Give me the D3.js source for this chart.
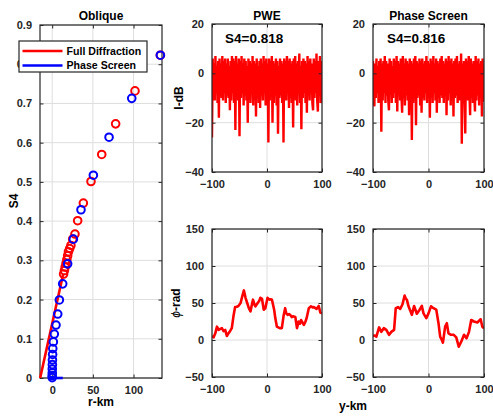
<!DOCTYPE html>
<html>
<head>
<meta charset="utf-8">
<script src="https://cdn.jsdelivr.net/npm/d3@7"></script>
<style>
  html, body { margin: 0; padding: 0; background: #fff; }
  svg { display: block; font-family: "Liberation Sans", Arial, sans-serif; font-weight: bold; }
</style>
</head>
<body>
<svg id="fig" width="493" height="416"></svg>
<script>
// ---- Oblique panel: S4 against r (km) ----
const fdR   = [133, 101.8, 78, 60.9, 47.7, 38.3, 31.3, 28, 25.2, 23, 21.5, 20, 19, 18, 17, 16, 15, 14];
const fdS4  = [0.823, 0.732, 0.648, 0.57, 0.501, 0.446, 0.401, 0.367, 0.354, 0.338, 0.33, 0.322, 0.312, 0.302, 0.292, 0.283, 0.274, 0.265];
const fdLineR  = [-14.8, 13.5];
const fdLineS4 = [0, 0.265];

const psR   = [133, 97.8, 69.9, 50.6, 35.4, 26, 19, 12.9, 8.8, 6.8, 4.7, 2.6, 1.4, 0.7, 0.5, 0.3, 0.2, 0.1, 0.1, 0, 0];
const psS4  = [0.823, 0.713, 0.614, 0.517, 0.429, 0.354, 0.291, 0.24, 0.199, 0.163, 0.135, 0.112, 0.092, 0.075, 0.06, 0.046, 0.034, 0.023, 0.013, 0.006, 0.001];
const psLineR  = [-5, 13];
const psLineS4 = [0, 0];

const rTicks  = [0, 50, 100];
const s4Ticks = [0, 0.1, 0.2, 0.3, 0.4, 0.5, 0.6, 0.7, 0.8, 0.9];

// ---- Intensity (dB) across y (km), sampled every 1.25 km from -100 to 100 ----
const pweIdB = [
  -26, 6, -9, 4, -11, 7, -8, 3, -12, 5,
  -18, 6, -9, 4, -10, 7, -11, 5, -8, 6,
  -12, 4, -9, 6, -10, 3, -15, 5, -11, 7,
  -8, 6, -12, 5, -23, 7, -9, 4, -11, 6,
  -25.5, 5, -10, 7, -8, 4, -13, 6, -9, 5,
  -11, 3, -20, 6, -9, 5, -12, 4, -8, 7,
  -13, 5, -10, 4, -17.5, 6, -9, 3, -12, 5,
  -14, 6, -9, 4, -11, 7, -8, 5, -13, 6,
  -9, 4, -28, 6, -11, 5, -8, 7, -20, 5,
  -12, 4, -9, 6, -13, 5, -24.5, 3, -10, 6,
  -9, 5, -12, 4, -28, 6, -9, 5, -11, 7,
  -8, 5, -14, 6, -10, 4, -12, 5, -22, 6,
  -9, 7, -11, 4, -13, 5, -8, 8, -12, 3,
  -22.7, 5, -10, 6, -8, 5, -12, 4, -16, 7,
  -9, 5, -11, 6, -8, 4, -12, -15, 6, -10,
  5, -8, 8, -11, -15.5, 5, -9, 7, -12, -11,
  5
];
const psIdB = [
  5, -9, -13.4, 4, -10, 6, -8, 3, -12, 5,
  -10, 6, -23.7, 4, -11, 5, -8, 7, -12, 5,
  -9, 4, -11, -15, 6, -8, 5, -12, 3, -10,
  6, -8, 5, -12, 7, -15.5, 5, -9, 4, -11,
  6, -9, -16, 7, -10, 4, -13, 6, -9, 5,
  -11, 4, -17, 6, -10, 5, -27, 4, -12, 6,
  -9, 7, -21, 5, -10, 4, -9, 6, -13, 5,
  -16, 6, -10, 4, -11, 5, -8, 7, -12, 5,
  -9, 4, -18, 6, -10, 5, -12, 7, -8, 4,
  -11, 6, -16, 5, -10, 4, -12, 6, -9, 7,
  -10, 5, -12, 4, -9, 6, -17, 5, -11, 7,
  -8, 5, -13, 6, -10, 4, -17.5, 5, -10, 6,
  -9, 7, -12, 4, -11, 5, -9, 8, -28.5, 4,
  -10, 5, -12, -24.4, 6, -9, 5, -11, 7, -8,
  -17, 6, -10, 4, -12, 5, -9, -15.5, 7, -11,
  5, -9, 6, -13, 4, -10, 5, -17.5, 6, -11,
  -10.7
];
const intensityY = d3.range(pweIdB.length).map(i => -100 + i * 1.25);

// ---- Phase (rad) across y (km) ----
const pwePhY = [-100, -97, -94, -91, -88, -85, -82, -79, -76, -73, -70, -68, -64, -61, -58, -55, -52, -48, -45, -42, -39, -36, -33, -30, -28, -25.5, -23, -21, -17, -14, -12, -9, -6, -3, 1, 4.5, 7, 9, 13, 15, 18, 23, 27, 30, 33, 35, 37.5, 40, 42, 45, 47, 51.5, 54.5, 57.5, 60, 62, 65, 67, 70, 72, 76, 80, 83, 85, 88, 90, 92, 94, 97, 100];
const pwePh  = [5.5, 3.6, 9, 18, 13.6, 15, 16, 12, 13.6, 5.5, 9, 11, 16, 32, 44.5, 45, 46, 50, 59, 67, 57, 50, 43, 38.6, 46, 54.5, 48, 45.5, 50, 53, 57, 55.5, 41, 43, 57, 54.5, 55, 54.5, 41, 30, 18, 16, 16, 32, 43, 36, 34, 35, 34, 31, 32, 31, 16, 25, 22, 27, 23, 20.5, 25, 29.5, 43, 45.5, 44, 44.5, 43, 42, 44, 46, 37, 36];
const psPhY  = [-100, -97, -94, -89, -85, -80.6, -76, -71, -67, -62, -59, -55, -51, -47, -43, -41, -39, -36, -33, -30, -26, -21, -16, -12, -9, -4, 0, 4.5, 9, 14, 18, 21, 24, 26, 30, 33, 36, 40.6, 45.5, 50, 54.5, 59, 64, 68.5, 73, 77, 82, 88, 94, 97, 100];
const psPh   = [5.5, 6, 4.5, 17, 11, 16, 13.6, 7, 11, 13.6, 43, 44.5, 42, 48, 60, 56, 54.5, 45.5, 40, 34, 46, 35.5, 41, 46, 36, 29.5, 36, 45.5, 43, 41, 22.7, 4.5, 0, -3.6, 18, 22.7, 9, 7, 7, 3.6, -9, -2.3, 7, 2.3, 11, 27, 25, 23.6, 28, 18, 16];

const yTicks   = [-100, 0, 100];
const idbTicks = [-40, -20, 0, 20];
const phTicks  = [-50, 0, 50, 100, 150];

const RED = "#ff0000", BLUE = "#0000ff";
const AXIS = "#262626", GRID = "#dedede";

const svg = d3.select("#fig");

// Draws a MATLAB-style boxed axes with inward ticks on all sides and a grid.
function axesBox(box, xDomain, yDomain, xt, yt, yFmt) {
  const x = d3.scaleLinear().domain(xDomain).range([box.x0, box.x1]);
  const y = d3.scaleLinear().domain(yDomain).range([box.y1, box.y0]);
  const g = svg.append("g");
  g.append("rect").attr("x", box.x0).attr("y", box.y0)
    .attr("width", box.x1 - box.x0).attr("height", box.y1 - box.y0).attr("fill", "#fff");
  const grid = g.append("g").attr("stroke", GRID).attr("stroke-width", 1);
  xt.forEach(v => grid.append("line").attr("x1", x(v)).attr("x2", x(v)).attr("y1", box.y0).attr("y2", box.y1));
  yt.forEach(v => grid.append("line").attr("y1", y(v)).attr("y2", y(v)).attr("x1", box.x0).attr("x2", box.x1));
  const clipId = "c" + Math.round(box.x0) + "_" + Math.round(box.y0);
  svg.append("clipPath").attr("id", clipId).append("rect")
    .attr("x", box.x0).attr("y", box.y0).attr("width", box.x1 - box.x0).attr("height", box.y1 - box.y0);
  const plot = svg.append("g").attr("clip-path", `url(#${clipId})`);
  const frame = svg.append("g");
  // bottom & left axes via d3 axis generators, ticks pointing inward
  frame.append("g").attr("transform", `translate(0,${box.y1})`)
    .call(d3.axisBottom(x).tickValues(xt).tickSizeInner(-3.5).tickSizeOuter(0).tickPadding(8).tickFormat(d3.format("d")));
  frame.append("g").attr("transform", `translate(${box.x0},0)`)
    .call(d3.axisLeft(y).tickValues(yt).tickSizeInner(-3.5).tickSizeOuter(0).tickPadding(8).tickFormat(yFmt));
  frame.append("g").attr("transform", `translate(0,${box.y0})`)
    .call(d3.axisTop(x).tickValues(xt).tickSizeInner(-3.5).tickSizeOuter(0).tickFormat(""));
  frame.append("g").attr("transform", `translate(${box.x1},0)`)
    .call(d3.axisRight(y).tickValues(yt).tickSizeInner(-3.5).tickSizeOuter(0).tickFormat(""));
  frame.selectAll(".domain").remove();
  frame.selectAll(".tick line").attr("stroke", AXIS);
  frame.selectAll(".tick text").attr("fill", AXIS).attr("font-size", 11)
    .attr("font-family", "Liberation Sans, Arial, sans-serif").attr("font-weight", "bold");
  frame.append("rect").attr("x", box.x0).attr("y", box.y0)
    .attr("width", box.x1 - box.x0).attr("height", box.y1 - box.y0)
    .attr("fill", "none").attr("stroke", AXIS).attr("stroke-width", 1.2);
  const top = svg.append("g"); // unclipped layer above the frame
  return { x, y, plot, frame, top };
}

function label(txt, x, y, size, rotate) {
  const t = svg.append("text").attr("x", x).attr("y", y).attr("text-anchor", "middle")
    .attr("font-size", size).attr("fill", "#000").text(txt);
  if (rotate) t.attr("transform", `rotate(-90,${x},${y})`);
  return t;
}

// ---- Oblique ----
const ob = axesBox({ x0: 40, x1: 162, y0: 25, y1: 378 }, [-15, 135], [0, 0.9], rTicks, s4Ticks,
  d => d === 0 ? "0" : d3.format(".1f")(d));
const lineOb = d3.line().x(d => ob.x(d[0])).y(d => ob.y(d[1]));
ob.top.append("path").datum(d3.zip(fdLineR, fdLineS4)).attr("d", lineOb)
  .attr("stroke", RED).attr("stroke-width", 2.6).attr("fill", "none");
ob.top.append("g").selectAll("circle").data(d3.zip(fdR, fdS4)).join("circle")
  .attr("cx", d => ob.x(d[0])).attr("cy", d => ob.y(d[1])).attr("r", 3.8)
  .attr("fill", "none").attr("stroke", RED).attr("stroke-width", 2);
ob.top.append("path").datum(d3.zip(psLineR, psLineS4)).attr("d", lineOb)
  .attr("stroke", BLUE).attr("stroke-width", 2.6).attr("fill", "none");
ob.top.append("g").selectAll("circle").data(d3.zip(psR, psS4)).join("circle")
  .attr("cx", d => ob.x(d[0])).attr("cy", d => ob.y(d[1])).attr("r", 3.8)
  .attr("fill", "none").attr("stroke", BLUE).attr("stroke-width", 2);
label("Oblique", 101, 19.5, 12);
label("S4", 18, 201, 12, true);
label("r-km", 101, 406, 12);

// legend
const lg = svg.append("g");
lg.append("rect").attr("x", 19).attr("y", 41).attr("width", 128).attr("height", 31)
  .attr("fill", "#fff").attr("stroke", AXIS).attr("stroke-width", 1.2);
[["Full Diffraction", RED, 51], ["Phase Screen", BLUE, 65.5]].forEach(([t, c, yy]) => {
  lg.append("line").attr("x1", 22.5).attr("x2", 62.5).attr("y1", yy).attr("y2", yy)
    .attr("stroke", c).attr("stroke-width", 2.6);
  lg.append("text").attr("x", 66.5).attr("y", yy + 3.8).attr("font-size", 10.6)
    .attr("fill", "#000").text(t);
});

// ---- Intensity panels ----
function intensityPanel(box, vals, title, s4txt, s4x) {
  const a = axesBox(box, [-100, 100], [-40, 20], yTicks, idbTicks, d3.format("d"));
  a.plot.append("path").datum(d3.zip(intensityY, vals))
    .attr("d", d3.line().x(d => a.x(d[0])).y(d => a.y(d[1])))
    .attr("stroke", RED).attr("stroke-width", 2.4).attr("stroke-linejoin", "miter").attr("fill", "none");
  label(title, (box.x0 + box.x1) / 2, 19.5, 12);
  svg.append("text").attr("x", s4x).attr("y", 43).attr("font-size", 13.5).attr("fill", "#000").text(s4txt);
  return a;
}
intensityPanel({ x0: 212, x1: 322, y0: 24, y1: 172 }, pweIdB, "PWE", "S4=0.818", 225);
intensityPanel({ x0: 373, x1: 484, y0: 24, y1: 172 }, psIdB, "Phase Screen", "S4=0.816", 387);
label("I-dB", 183, 98, 12, true);

// ---- Phase panels ----
function phasePanel(box, ys, vals) {
  const a = axesBox(box, [-100, 100], [-50, 150], yTicks, phTicks, d3.format("d"));
  a.plot.append("path").datum(d3.zip(ys, vals))
    .attr("d", d3.line().x(d => a.x(d[0])).y(d => a.y(d[1])))
    .attr("stroke", RED).attr("stroke-width", 2.6).attr("stroke-linejoin", "round").attr("fill", "none");
  return a;
}
phasePanel({ x0: 212, x1: 322, y0: 229, y1: 377 }, pwePhY, pwePh);
phasePanel({ x0: 373, x1: 484, y0: 229, y1: 377 }, psPhY, psPh);
const phl = svg.append("text").attr("text-anchor", "middle").attr("font-size", 12)
  .attr("transform", "translate(180,303) rotate(-90)");
phl.append("tspan").attr("font-style", "italic").attr("font-weight", "normal").text("ϕ");
phl.append("tspan").text("-rad");
label("y-km", 353, 409.5, 12);
</script>
</body>
</html>
